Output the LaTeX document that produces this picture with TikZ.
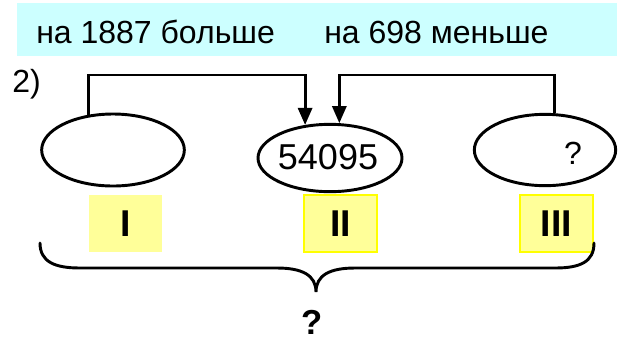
\documentclass[tikz,border=0pt]{standalone}
\usepackage{fontspec}
\setmainfont{Liberation Sans}
\usetikzlibrary{shapes.geometric,arrows.meta}
\definecolor{goluboy}{HTML}{CCFFFF}
\definecolor{zheltyy}{HTML}{FFFF99}
\definecolor{zhelto}{HTML}{FFFF00}
\tikzset{
  chast/.style={draw,ellipse,line width=2.2pt,inner sep=0pt},
  nomer/.style={fill=zheltyy,minimum width=54.75pt,minimum height=42.75pt,inner sep=0pt,font=\fontsize{28}{28}\selectfont\bfseries},
  strelka/.style={line width=2.2pt,-{Triangle[length=12.75pt,width=10.5pt]}}
}
\begin{document}
\begin{tikzpicture}[x=0.75pt,y=-0.75pt,font=\fontsize{24}{24}\selectfont]
      \useasboundingbox (0,0) rectangle (630,340);
      \fill[goluboy] (17,3) rectangle (617,56);
      \node[anchor=base west,inner sep=0pt] (bol) at (36,43) {на 1887 больше};
      \node[anchor=base west,inner sep=0pt] (men) at (324,43) {на 698 меньше};
      \node[anchor=base west,inner sep=0pt] (num) at (12,92) {2)};
      % ellipses
      \node[chast,minimum width=107pt,minimum height=54pt] (e1) at (113,150) {};
      \node[chast,minimum width=108pt,minimum height=50.5pt] (e2) at (330,158) {};
      \node[chast,minimum width=106pt,minimum height=53.5pt] (e3) at (545,150) {};
      \node[font=\fontsize{27}{27}\selectfont] (v2) at (328,157) {54095};
      \node[font=\fontsize{24}{24}\selectfont,inner sep=0pt] (v3) at (573,153) {?};
      % top connectors
      \coordinate (topL) at (200,75);
      \coordinate (topR) at (450,75);
      \draw[strelka] (e1.125) |- (topL) -| (e2.127);
      \draw[strelka] (e3.76) |- (topR) -| (e2.75);
      % numbers
      \node[nomer] (n1) at (125.5,223.5) {I};
      \node[nomer,draw=zhelto,line width=1pt] (n2) at (340.5,223.5) {II};
      \node[nomer,draw=zhelto,line width=1pt] (n3) at (556.5,223.5) {III};
      % brace
      \draw[line width=2.2pt,line cap=round] (40,243) .. controls (40,262) and (55,268) .. (80,268) -- (277,268)
        .. controls (302,268) and (316,275) .. (316,292) .. controls (316,275) and (330,268) .. (355,268)
        -- (555,268) .. controls (580,268) and (594,262) .. (594,243);
      \node[font=\fontsize{26}{26}\selectfont\bfseries,inner sep=0pt] (sum) at (312,322) {?};
    \end{tikzpicture}
\end{document}
